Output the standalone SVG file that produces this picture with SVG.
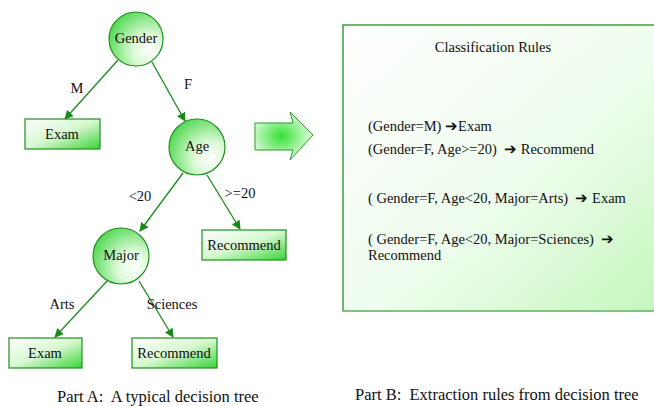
<svg xmlns="http://www.w3.org/2000/svg" width="654" height="406" viewBox="0 0 654 406">
<defs>
<radialGradient id="gc" cx="0.72" cy="0.68" r="0.85" fx="0.75" fy="0.72">
<stop offset="0" stop-color="#ffffff"/>
<stop offset="0.35" stop-color="#ddfad8"/>
<stop offset="1" stop-color="#3fd43f"/>
</radialGradient>
<linearGradient id="gb" x1="0" y1="0" x2="1" y2="1">
<stop offset="0" stop-color="#ffffff"/>
<stop offset="0.5" stop-color="#d6f8d0"/>
<stop offset="1" stop-color="#38d438"/>
</linearGradient>
<radialGradient id="ga" cx="0.45" cy="0.5" r="0.6">
<stop offset="0" stop-color="#36e036"/>
<stop offset="1" stop-color="#f4fff2"/>
</radialGradient>
<linearGradient id="gr" x1="0" y1="0" x2="1" y2="1">
<stop offset="0" stop-color="#ffffff"/>
<stop offset="0.55" stop-color="#eefded"/>
<stop offset="1" stop-color="#c4f7bc"/>
</linearGradient>
<marker id="ah" viewBox="0 0 10 10" refX="9" refY="5" markerWidth="9" markerHeight="9" markerUnits="userSpaceOnUse" orient="auto">
<path d="M0,0 L10,5 L0,10 z" fill="#1a8a1a"/>
</marker>
</defs>
<style>
.node{stroke:#1f8f1f;stroke-width:1.2}
.circ{fill:url(#gc)}
.box{fill:url(#gb)}
.t{font-family:"Liberation Serif","Times New Roman",serif;font-size:14.5px;fill:#111;white-space:pre}
.c{text-anchor:middle}
.cap{font-size:16.5px}
.e{stroke:#1a8a1a;stroke-width:1.3;fill:none;marker-end:url(#ah)}
.hl{stroke:#c8f2c0;stroke-width:0.8;fill:none;stroke-dasharray:2 1}
</style>
<rect width="654" height="406" fill="#ffffff"/>

<g id="connectors">
<line class="e" x1="118" y1="60" x2="65" y2="119"/>
<line class="e" x1="152" y1="62" x2="185" y2="121"/>
<line class="e" x1="183" y1="173" x2="140" y2="231"/>
<line class="e" x1="207" y1="175" x2="240" y2="229"/>
<line class="e" x1="108" y1="280" x2="55" y2="337"/>
<line class="e" x1="139" y1="281" x2="173" y2="337"/>
<text class="t c" x="77" y="93">M</text>
<text class="t c" x="188" y="89">F</text>
<text class="t c" x="140" y="201">&lt;20</text>
<text class="t c" x="240" y="198">&gt;=20</text>
<text class="t c" x="62" y="309">Arts</text>
<text class="t c" x="172" y="309">Sciences</text>
</g>

<g id="gender">
<circle class="node circ" cx="136" cy="39" r="27"/>
<path class="hl" d="M128,63 Q152,58 160,42"/>
<text class="t c" x="136" y="43">Gender</text>
</g>
<g id="exam1">
<rect class="node box" x="25" y="119" width="75" height="30"/>
<text class="t c" x="62" y="139">Exam</text>
</g>
<g id="age">
<circle class="node circ" cx="197" cy="147" r="28"/>
<path class="hl" d="M188,172 Q214,167 222,150"/>
<text class="t c" x="197" y="151">Age</text>
</g>
<g id="major">
<circle class="node circ" cx="121" cy="256" r="28"/>
<path class="hl" d="M113,281 Q138,276 146,259"/>
<text class="t c" x="121" y="260">Major</text>
</g>
<g id="recommend1">
<rect class="node box" x="202" y="230" width="84" height="30"/>
<text class="t c" x="244" y="250">Recommend</text>
</g>
<g id="exam2">
<rect class="node box" x="9" y="338" width="73" height="30"/>
<text class="t c" x="45" y="358">Exam</text>
</g>
<g id="recommend2">
<rect class="node box" x="132" y="338" width="85" height="30"/>
<text class="t c" x="174" y="358">Recommend</text>
</g>

<g id="bigarrow">
<path d="M255,123 L293,123 L290,112 L313,135 L290,160 L293,150 L255,150 Z" fill="url(#ga)" stroke="#2a9a2a" stroke-width="1"/>
</g>

<g id="rules">
<rect x="343" y="25" width="320" height="286" fill="url(#gr)" stroke="#2a8a2a" stroke-width="1.3"/>
<line x1="343" y1="311" x2="654" y2="311" stroke="#7ccf7c" stroke-width="1.5"/>
<text class="t c" x="493" y="52">Classification Rules</text>
<text class="t" x="368" y="131">(Gender=M) ➔Exam</text>
<text class="t" x="368" y="154">(Gender=F, Age&gt;=20)  ➔ Recommend</text>
<text class="t" x="368" y="203">( Gender=F, Age&lt;20, Major=Arts)  ➔ Exam</text>
<text class="t" x="368" y="244">( Gender=F, Age&lt;20, Major=Sciences)  ➔</text>
<text class="t" x="368" y="260">Recommend</text>
</g>

<g id="captions">
<text class="t cap" x="57" y="402">Part A:  A typical decision tree</text>
<text class="t cap" x="355" y="400">Part B:  Extraction rules from decision tree</text>
</g>
</svg>
